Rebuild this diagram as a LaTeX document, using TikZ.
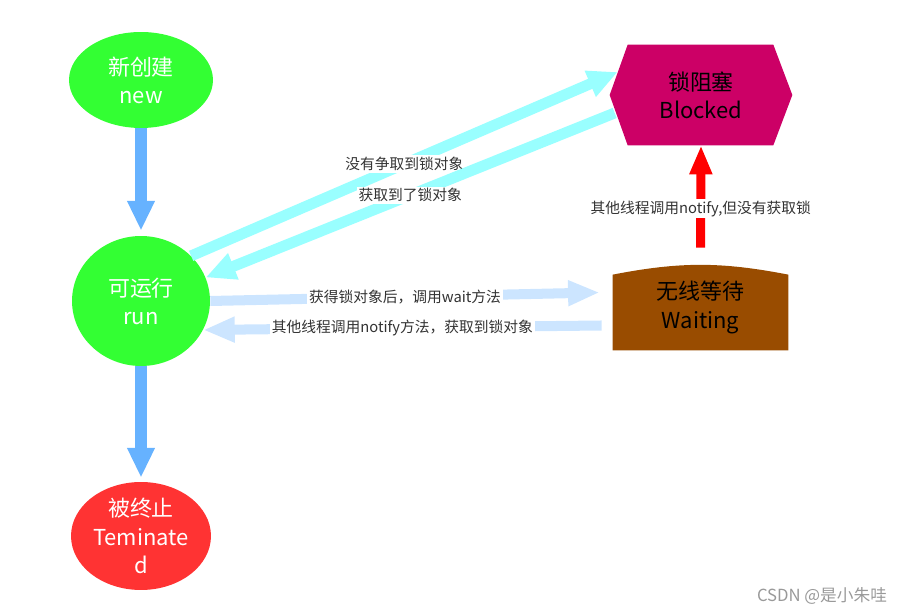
\documentclass[tikz,border=0pt]{standalone}
\usepackage{fontspec}
\setmainfont{Noto Sans CJK SC}
\usepackage{xcolor}
\usepackage{tikz}
\usetikzlibrary{arrows.meta, positioning, calc, shapes.geometric, backgrounds}

\definecolor{stategreen}{HTML}{33FF33}
\definecolor{stopred}{HTML}{FF3333}
\definecolor{lockpink}{HTML}{CC0066}
\definecolor{waitbrown}{HTML}{994C00}
\definecolor{flowblue}{HTML}{66B2FF}
\definecolor{flowcyan}{HTML}{99FFFF}
\definecolor{flowpale}{HTML}{CCE5FF}
\definecolor{labelgray}{HTML}{333333}

\begin{document}
\begin{tikzpicture}[x=0.02cm, y=-0.02cm,
    state/.style={ellipse, fill=stategreen, text=white, align=center, inner sep=0pt,
        font=\fontsize{12.5}{16}\selectfont},
    lockbox/.style={rectangle, text=black, align=center, inner sep=0pt,
        font=\fontsize{12.5}{16}\selectfont},
    lbl/.style={fill=white, text=labelgray, inner sep=1pt, font=\fontsize{8.4}{10}\selectfont}]
    \useasboundingbox (0,0) rectangle (907,614);

    % 状态
    \node[state, minimum width=2.88cm, minimum height=1.92cm] (new) at (141,80) {新创建\\new};
    \node[state, minimum width=2.76cm, minimum height=2.6cm] (run) at (141,301) {可运行\\run};
    \node[state, fill=stopred, minimum width=2.8cm, minimum height=2.16cm] (stop) at (141,536) {被终止\\Teminate\\d};
    \node[lockbox, minimum width=3.64cm, minimum height=2cm] (blocked) at (701,95) {锁阻塞\\Blocked};
    \node[lockbox, minimum width=3.5cm, minimum height=1.7cm] (waiting) at (700.5,307.5) {无线等待\\Waiting};

    \begin{scope}[on background layer]
        \fill[lockpink] (blocked.west) -- ($(blocked.north west)+(18,0)$) -- ($(blocked.north east)+(-19,0)$)
            -- (blocked.east) -- ($(blocked.south east)+(-19,0)$) -- ($(blocked.south west)+(18,0)$) -- cycle;
        \fill[waitbrown] ($(waiting.north west)+(0,10)$) to[bend left=11] ($(waiting.north east)+(0,10)$)
            -- (waiting.south east) -- (waiting.south west) -- cycle;
    \end{scope}

    % 主流程
    \draw[flowblue, line width=6.8pt, -{Triangle[length=17pt, width=14.7pt]}, shorten >=0.1cm] (new.south) -- (run.north);
    \draw[flowblue, line width=6.8pt, -{Triangle[length=17pt, width=14.7pt]}, shorten >=0.08cm] (run.south) -- (stop.north);

    % 锁
    \draw[flowcyan, line width=6.2pt, -{Triangle[length=17pt, width=15pt]}] (run.42) -- ($(blocked.west)+(8,-23)$)
        node[lbl, midway] {没有争取到锁对象};
    \draw[flowcyan, line width=6.2pt, -{Triangle[length=17pt, width=15pt]}] ($(blocked.west)+(5,18)$) -- (run.20)
        node[lbl, midway] {获取到了锁对象};

    % 等待
    \draw[flowpale, line width=5.7pt, -{Triangle[length=18pt, width=13.6pt]}] (run.east) -- ($(waiting.west)+(-13,-15)$)
        node[lbl, midway] {获得锁对象后，调用wait方法};
    \draw[flowpale, line width=5.7pt, -{Triangle[length=18pt, width=13.6pt]}] ($(waiting.west)+(-11,18)$) -- (run.-25)
        node[lbl, midway] {其他线程调用notify方法，获取到锁对象};

    \draw[red, line width=5.1pt, -{Triangle[length=16.5pt, width=12pt]}, shorten <=0.34cm] (waiting.north) -- (blocked.south)
        node[lbl, pos=0.47] {其他线程调用notify,但没有获取锁};

    \node[text=gray!80, font=\fontsize{9.5}{11}\selectfont] (mark) at (822,596) {CSDN @是小朱哇};
\end{tikzpicture}
\end{document}
